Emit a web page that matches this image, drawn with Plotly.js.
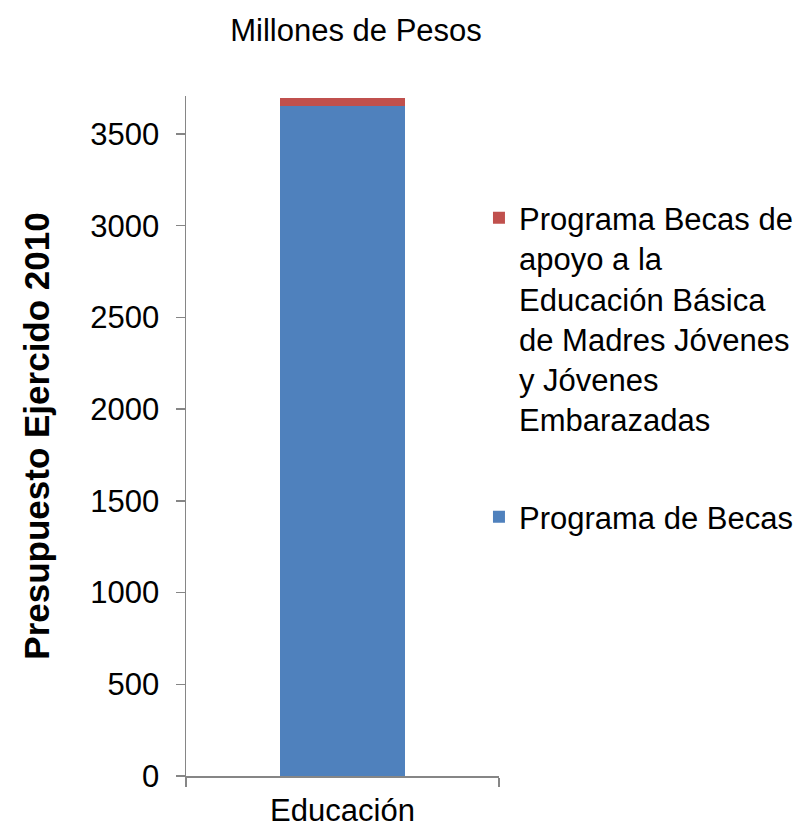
<!DOCTYPE html>
<html>
<head>
<meta charset="utf-8">
<script src="https://cdn.plot.ly/plotly-3.0.1.min.js"></script>
<style>html,body{margin:0;padding:0;background:#fff;}</style>
</head>
<body>
<div id="chart" style="width:806px;height:827px;"></div>
<script>
const categories = ["Educación"];
const seriesNames = [
  "Programa de Becas",
  "Programa Becas de<br>apoyo a la<br>Educación Básica<br>de Madres Jóvenes<br>y Jóvenes<br>Embarazadas"
];
const programaDeBecas = [3650];
const programaMadresJovenes = [46];
const yTickValues = [0, 500, 1000, 1500, 2000, 2500, 3000, 3500];

const fontFam = "Liberation Sans, Arial, sans-serif";

const traces = [
  {
    type: "bar", name: seriesNames[0], x: categories, y: programaDeBecas,
    marker: {color: "#4F81BD"}, width: 0.4, legendgroup: "a", legendrank: 2, hoverinfo: "y"
  },
  {
    type: "bar", name: seriesNames[1], x: categories, y: programaMadresJovenes,
    marker: {color: "#C0504D"}, width: 0.4, legendgroup: "b", legendrank: 1, hoverinfo: "y"
  }
];

const layout = {
  width: 806, height: 827,
  margin: {l: 186, r: 307, t: 96, b: 51, autoexpand: false},
  paper_bgcolor: "#fff", plot_bgcolor: "#fff",
  barmode: "stack",
  font: {family: fontFam, size: 31, color: "#000"},
  title: {
    text: "Millones de Pesos",
    font: {family: fontFam, size: 31, color: "#000"},
    xref: "container", x: 0.4417, xanchor: "center",
    yref: "container", y: 0.964, yanchor: "middle"
  },
  xaxis: {
    type: "category",
    showline: true, linecolor: "#868686", linewidth: 1.5,
    ticks: "outside", tickson: "boundaries", ticklen: 9, tickcolor: "#868686", tickwidth: 1.5,
    showgrid: false, zeroline: false,
    tickfont: {family: fontFam, size: 31, color: "#000"},
    ticklabelstandoff: 6
  },
  yaxis: {
    range: [0, 3707],
    tickvals: yTickValues,
    ticktext: yTickValues.map(String),
    showline: true, linecolor: "#868686", linewidth: 1.5,
    ticks: "outside", ticklen: 9, tickcolor: "#868686", tickwidth: 1.5,
    showgrid: false, zeroline: false,
    tickfont: {family: fontFam, size: 31, color: "#000"},
    ticklabelstandoff: 10,
    title: {
      text: "<b>Presupuesto Ejercido 2010</b>",
      font: {family: fontFam, size: 35, color: "#000"},
      standoff: 30
    }
  },
  showlegend: true,
  legend: {
    x: 0.936, xanchor: "left",
    y: 0.860, yanchor: "top",
    traceorder: "grouped",
    tracegroupgap: 54,
    valign: "top",
    font: {family: fontFam, size: 31, color: "#000"},
    bgcolor: "rgba(0,0,0,0)"
  }
};

Plotly.newPlot("chart", traces, layout, {displayModeBar: false, staticPlot: true});
</script>
</body>
</html>
